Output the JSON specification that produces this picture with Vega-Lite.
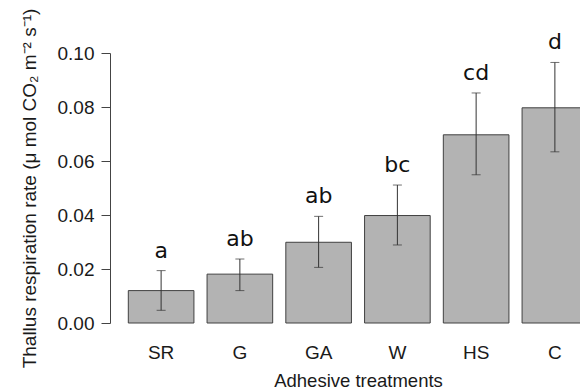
{
  "$schema": "https://vega.github.io/schema/vega-lite/v6.json",
  "width": 470,
  "height": 270,
  "autosize": {"type": "none"},
  "padding": {"left": 110, "top": 53, "right": 0, "bottom": 67},
  "background": "white",
  "config": {"view": {"stroke": null}, "font": "Liberation Sans"},
  "data": {
    "values": [
      {"treatment": "SR", "mean": 0.012, "lo": 0.0047, "hi": 0.0194, "letter": "a"},
      {"treatment": "G", "mean": 0.0181, "lo": 0.012, "hi": 0.0237, "letter": "ab"},
      {"treatment": "GA", "mean": 0.0299, "lo": 0.0206, "hi": 0.0395, "letter": "ab"},
      {"treatment": "W", "mean": 0.0398, "lo": 0.0289, "hi": 0.0511, "letter": "bc"},
      {"treatment": "HS", "mean": 0.0697, "lo": 0.0549, "hi": 0.0852, "letter": "cd"},
      {"treatment": "C", "mean": 0.0797, "lo": 0.0634, "hi": 0.0965, "letter": "d"}
    ]
  },
  "encoding": {
    "x": {
      "field": "treatment",
      "type": "nominal",
      "sort": null,
      "scale": {"range": [0, 496], "paddingInner": 0.1667, "paddingOuter": 0.2325},
      "axis": {
        "title": "Adhesive treatments",
        "domain": false,
        "ticks": false,
        "labelAngle": 0,
        "labelFontSize": 19,
        "labelColor": "#1a1a1a",
        "labelPadding": 20,
        "titleFontSize": 18.5,
        "titleFontWeight": "normal",
        "titleColor": "#1a1a1a",
        "titlePadding": 9
      }
    }
  },
  "layer": [
    {
      "mark": {"type": "bar", "fill": "#b3b3b3", "stroke": "#404040", "strokeWidth": 1},
      "encoding": {
        "y": {
          "field": "mean",
          "type": "quantitative",
          "scale": {"domain": [0, 0.1], "nice": false},
          "axis": {
            "title": "Thallus respiration rate (μ mol CO₂ m⁻² s⁻¹)",
            "values": [0, 0.02, 0.04, 0.06, 0.08, 0.1],
            "format": ".2f",
            "grid": false,
            "domainColor": "#444444",
            "tickColor": "#444444",
            "tickSize": 9,
            "labelPadding": 7,
            "labelFontSize": 19,
            "labelColor": "#1a1a1a",
            "titleFontSize": 19,
            "titleFontWeight": "normal",
            "titleColor": "#1a1a1a",
            "titlePadding": 18
          }
        }
      }
    },
    {
      "mark": {"type": "rule", "color": "#333333", "strokeWidth": 1},
      "encoding": {
        "y": {"field": "lo", "type": "quantitative"},
        "y2": {"field": "hi"}
      }
    },
    {
      "mark": {"type": "tick", "color": "#333333", "thickness": 1, "size": 9},
      "encoding": {"y": {"field": "lo", "type": "quantitative"}}
    },
    {
      "mark": {"type": "tick", "color": "#333333", "thickness": 1, "size": 9},
      "encoding": {"y": {"field": "hi", "type": "quantitative"}}
    },
    {
      "mark": {"type": "text", "font": "DejaVu Sans", "fontSize": 22, "baseline": "alphabetic", "dy": -13, "color": "#111111"},
      "encoding": {
        "y": {"field": "hi", "type": "quantitative"},
        "text": {"field": "letter"}
      }
    }
  ]
}
